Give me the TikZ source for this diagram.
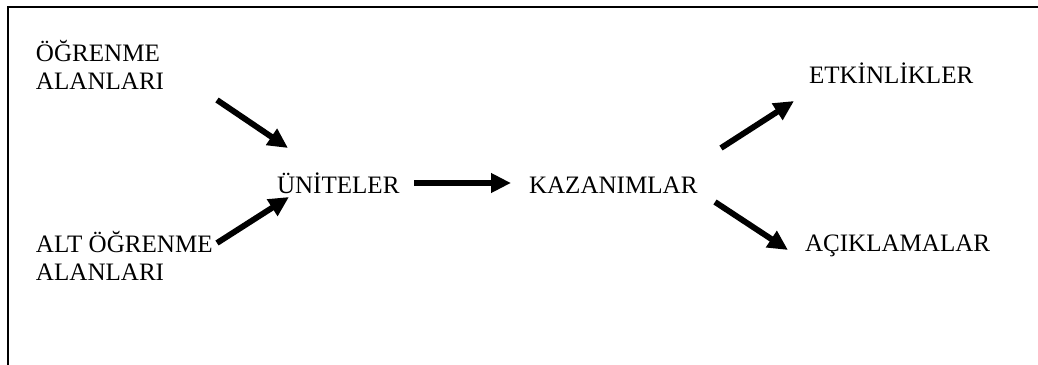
\documentclass[tikz,border=0pt]{standalone}
\usepackage{fontspec}
\setmainfont{Liberation Serif}
\usetikzlibrary{arrows.meta}
\begin{document}
\begin{tikzpicture}[x=0.75pt,y=-0.75pt,
  label/.style={inner sep=0pt,outer sep=0pt,align=left,
    font=\fontsize{18.8}{20.5}\selectfont},
  flow/.style={line width=4.4pt,
    -{Triangle[length=15pt,width=14pt]}}]
  \useasboundingbox (0,0) rectangle (1038,364);
  % frame (right and bottom sides fall outside the page)
  \begin{scope}
    \clip (0,0) rectangle (1038,364);
    \draw[line width=1.6pt] (8,7) rectangle (1050,380);
  \end{scope}
  % labels (base anchor = baseline of the last line)
  \node[label,anchor=base west] (og)  at (36,89)  {ÖĞRENME\\ALANLARI};
  \node[label,anchor=base west] (alt) at (36,280) {ALT ÖĞRENME\\ALANLARI};
  \node[label,anchor=base west] (uni) at (277,193) {ÜNİTELER};
  \node[label,anchor=base west] (kaz) at (529,193) {KAZANIMLAR};
  \node[label,anchor=base west] (etk) at (809,83)  {ETKİNLİKLER};
  \node[label,anchor=base west] (aci) at (805,251) {AÇIKLAMALAR};
  % arrow end points
  \coordinate (a1s) at (217,100);
  \coordinate (a1e) at (288,148);
  \coordinate (a2s) at (217,243);
  \coordinate (a2e) at (289,197);
  \coordinate (a3s) at (414,183);
  \coordinate (a3e) at (511,183);
  \coordinate (a4s) at (721,148);
  \coordinate (a4e) at (794,101);
  \coordinate (a5s) at (715,202);
  \coordinate (a5e) at (788,250);
  \draw[flow] (a1s) -- (a1e);
  \draw[flow] (a2s) -- (a2e);
  \draw[flow] (a3s) -- (a3e);
  \draw[flow] (a4s) -- (a4e);
  \draw[flow] (a5s) -- (a5e);
\end{tikzpicture}
\end{document}
